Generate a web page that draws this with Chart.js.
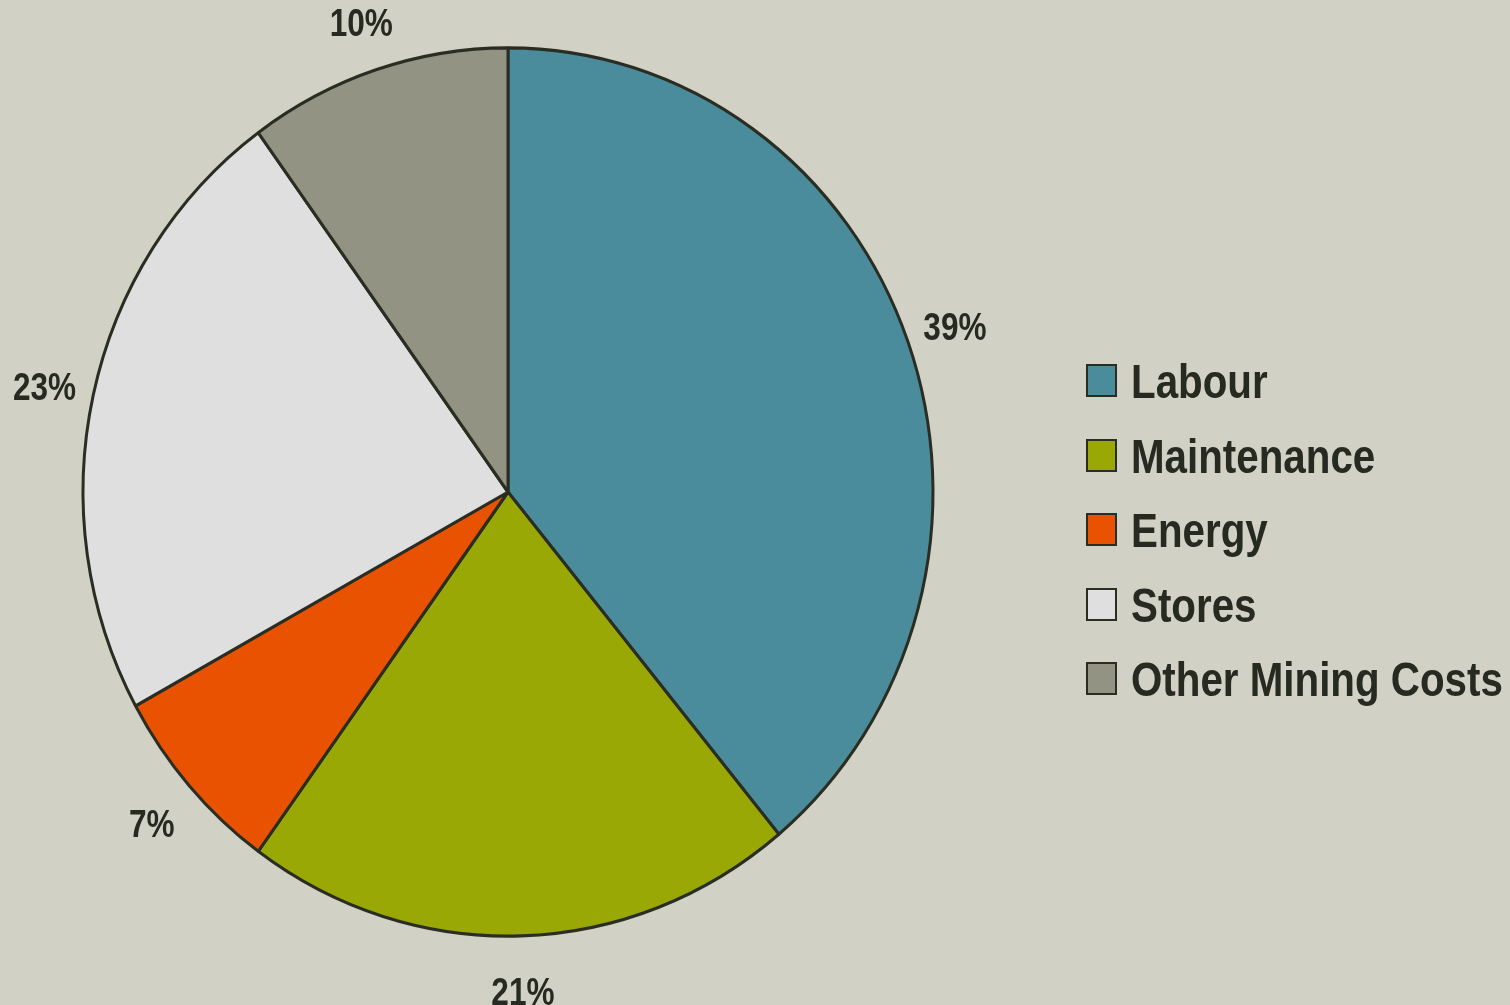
<!DOCTYPE html>
<html>
<head>
<meta charset="utf-8">
<script src="https://cdn.jsdelivr.net/npm/chart.js@4/dist/chart.umd.min.js"></script>
<style>
  html, body { margin: 0; padding: 0; background: #d2d1c5; }
  #wrap { position: relative; width: 1510px; height: 1005px; }
  #pie { position: absolute; left: 0; top: 0; }
  #legend { position: absolute; left: 1086px; top: 364px; }
  .row { position: relative; height: 74.5px; }
  .box { position: absolute; left: 0; top: 0; width: 27px; height: 29px; border: 2.5px solid #2a2d22; }
  .txt { position: absolute; left: 45px; top: -10px; font: bold 48px "Liberation Sans", Arial, sans-serif; color: #262a20; white-space: nowrap; transform: scaleX(0.84); transform-origin: 0 0; }
</style>
</head>
<body>
<div id="wrap">
  <canvas id="pie" width="1510" height="1005"></canvas>
  <div id="legend"></div>
</div>
<script>
const categories = ["Labour", "Maintenance", "Energy", "Stores", "Other Mining Costs"];
const shares = [39, 21, 7, 23, 10];
const colours = ["#4a8c9c", "#9aa806", "#e85200", "#dfdfdf", "#929382"];

const FONT = '"Liberation Sans", Arial, sans-serif';
const INK = "#262a20";
const STRETCH_Y = 1.045; // the pie in the picture is a little taller than wide
const NARROW = 0.83;     // squeeze text to look like a narrow face

// legend built from the same arrays
const legend = document.getElementById("legend");
categories.forEach((name, i) => {
  const row = document.createElement("div");
  row.className = "row";
  row.innerHTML = '<div class="box" style="background:' + colours[i] + '"></div><div class="txt">' + name + "</div>";
  legend.appendChild(row);
});

const stretch = {
  id: "stretch",
  beforeDatasetsDraw(chart) {
    const arc = chart.getDatasetMeta(0).data[0];
    const ctx = chart.ctx;
    ctx.save();
    ctx.translate(arc.x, arc.y);
    ctx.scale(1, STRETCH_Y);
    ctx.translate(-arc.x, -arc.y);
  },
  afterDatasetsDraw(chart) {
    chart.ctx.restore();
  },
};

const outsideLabels = {
  id: "outsideLabels",
  afterDraw(chart) {
    const ctx = chart.ctx;
    chart.getDatasetMeta(0).data.forEach((arc, i) => {
      const mid = (arc.startAngle + arc.endAngle) / 2;
      const r = arc.outerRadius + 50;
      const x = arc.x + Math.cos(mid) * r;
      const y = arc.y + Math.sin(mid) * r * STRETCH_Y + 6;
      ctx.save();
      ctx.translate(x, y);
      ctx.scale(NARROW, 1);
      ctx.font = "bold 38px " + FONT;
      ctx.fillStyle = INK;
      ctx.textAlign = "center";
      ctx.textBaseline = "middle";
      ctx.fillText(shares[i] + "%", 0, 0);
      ctx.restore();
    });
  },
};

new Chart(document.getElementById("pie").getContext("2d"), {
  type: "pie",
  data: {
    labels: categories,
    datasets: [
      {
        data: shares,
        backgroundColor: colours,
        borderColor: "#2a2d22",
        borderWidth: 3,
        radius: 425,
      },
    ],
  },
  options: {
    responsive: false,
    animation: false,
    devicePixelRatio: 1,
    events: [],
    layout: { padding: { left: 0, top: 0, right: 494, bottom: 21 } },
    plugins: {
      legend: { display: false },
      tooltip: { enabled: false },
    },
  },
  plugins: [stretch, outsideLabels],
});
</script>
</body>
</html>
